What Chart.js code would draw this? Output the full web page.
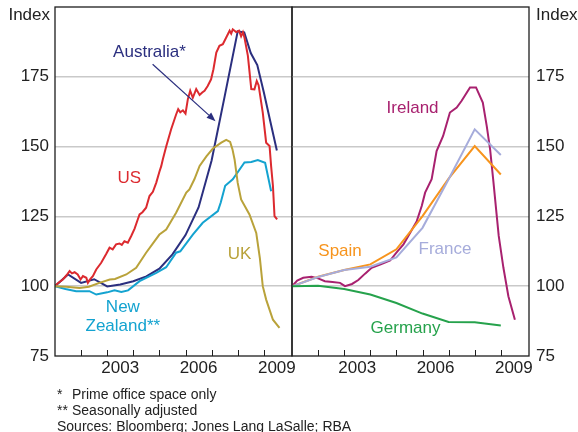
<!DOCTYPE html>
<html><head><meta charset="utf-8">
<script src="https://cdn.jsdelivr.net/npm/chart.js@4"></script>
<style>
html,body{margin:0;padding:0;background:#fff;}
body{width:578px;height:432px;position:relative;overflow:hidden;font-family:"Liberation Sans",Arial,sans-serif;color:#222;}
#cl{position:absolute;left:0;top:0;}
#cr{position:absolute;left:284px;top:0;}
.idx{position:absolute;top:5px;font-size:17px;line-height:20px;}
.note{position:absolute;left:57px;font-size:14px;line-height:16px;white-space:nowrap;}
.note span{display:inline-block;width:15px;}
</style></head>
<body>
<canvas id="cl" width="300" height="390"></canvas>
<canvas id="cr" width="294" height="390"></canvas>
<div class="idx" style="left:0;width:50px;text-align:right;">Index</div>
<div class="idx" style="left:536px;">Index</div>
<div class="note" style="top:386px;"><span>*</span>Prime office space only<br><span>**</span>Seasonally adjusted<br>Sources: Bloomberg; Jones Lang LaSalle; RBA</div>
<script>
// ---------- data (years as decimal dates, values as index, 2001 = 100) ----------
const US_T = [2001.0,2001.1,2001.3,2001.45,2001.56,2001.65,2001.75,2001.87,2001.98,2002.07,2002.2,2002.26,2002.35,2002.45,2002.58,2002.77,2002.96,2003.09,2003.21,2003.34,2003.47,2003.56,2003.66,2003.79,2003.92,2004.05,2004.17,2004.24,2004.35,2004.49,2004.62,2004.75,2004.88,2005.0,2005.07,2005.13,2005.26,2005.45,2005.55,2005.64,2005.72,2005.8,2005.9,2006.0,2006.09,2006.18,2006.28,2006.41,2006.54,2006.64,2006.73,2006.85,2006.98,2007.07,2007.18,2007.3,2007.43,2007.56,2007.69,2007.75,2007.81,2007.94,2008.05,2008.13,2008.2,2008.26,2008.39,2008.52,2008.64,2008.73,2008.8,2008.96,2009.09,2009.22,2009.28,2009.35,2009.41,2009.51];
const US_V = [100,101,102.4,104,105.4,104.6,105,104.2,102.4,103.6,103,101.2,102.5,103.6,106,108.4,111.5,113.8,113.2,115,115.3,114.8,116.1,115.6,118,120.6,123.9,125.7,126.5,128.1,132.3,133.8,137.1,141,143,145.4,150,156.2,159,161.5,163.4,162.3,163,161.8,167,170,167.5,170.6,168.5,169.4,170,171.7,174.1,177.7,183.7,186.1,186.7,189.1,191.5,190.5,192,191,191.5,189.5,191,189,182.5,170.6,170.5,173.5,172,162.2,151.4,150.2,143,135.9,125.1,123.9];
const UK_T = [2001.0,2001.43,2001.94,2002.3,2002.7,2003.1,2003.3,2003.73,2004.11,2004.49,2005.0,2005.26,2005.64,2006.03,2006.15,2006.34,2006.54,2006.8,2007.05,2007.37,2007.56,2007.71,2007.8,2007.88,2008.0,2008.13,2008.45,2008.71,2008.85,2008.96,2009.09,2009.35,2009.6];
const UK_V = [100,99.8,99.4,99.8,101.2,102.4,102.6,104.2,106.6,112,118.5,120.3,126.3,133.5,134.7,138.3,143.1,146.5,149.3,151.4,152.4,151.7,149,145.4,137,131.1,125.7,119.1,110,100,95.2,88,85.1];
const AU_T = [2001.0,2001.5,2002.0,2002.5,2003.0,2003.5,2004.0,2004.5,2005.0,2005.5,2006.0,2006.5,2007.0,2007.5,2008.0,2008.25,2008.5,2008.75,2009.0,2009.25,2009.5];
const AU_V = [100,104.2,101.2,102.5,99.9,100.6,101.8,103.5,106.3,111.4,118.3,128.2,145,168,191.3,190.9,183.5,179.2,169.5,159,148.6];
const NZ_T = [2001.0,2001.4,2001.81,2002.32,2002.58,2003.0,2003.28,2003.54,2003.8,2004.24,2004.88,2005.26,2005.64,2005.8,2006.28,2006.66,2007.24,2007.35,2007.52,2007.81,2008.26,2008.52,2008.77,2009.05,2009.28];
const NZ_V = [100,99,98.2,98.2,97,97.8,98.5,97.9,98.5,101.8,104.8,106.8,112,112.5,118.5,122.7,126.9,130,136,138.3,144.3,144.5,145.2,144.2,134];

const IE_T = [2001.0,2001.2,2001.43,2001.75,2002.0,2002.26,2002.55,2002.84,2003.03,2003.3,2003.54,2003.8,2004.05,2004.4,2004.76,2005.0,2005.27,2005.55,2005.78,2005.97,2006.1,2006.35,2006.54,2006.79,2007.05,2007.31,2007.5,2007.82,2008.05,2008.31,2008.46,2008.59,2008.72,2008.82,2008.92,2009.1,2009.29,2009.54];
const IE_V = [100,102,103,103.4,102.8,101.8,101.5,101.2,100,100.8,102.2,104.5,106.6,107.8,109.2,112,115,119.5,123.3,128.7,133.5,138.3,148.4,153.8,162.2,164,166.4,171.2,171.2,165.8,157.4,149,137.1,127.5,118,106.6,96.4,88];
const EU_T = [2001,2002,2003,2004,2005,2006,2007,2008,2009];
const FR_V = [100,103.3,105.8,107,110.3,120.9,138.3,156.2,147];
const ES_V = [100,103.4,105.8,107.8,113.2,125.1,138.5,150.2,140];
const DE_V = [100,100.2,99,97,94,90.2,87.2,87.1,85.9];

const Y_TICKS = [75,100,125,150,175];
const X_TICK_MARKS = [2002,2003,2004,2005,2006,2007,2008,2009];
const X_LABEL_YEARS = [2003,2006,2009];

// ---------- styling ----------
const FONT = "'Liberation Sans', Arial, sans-serif";
Chart.defaults.font.family = FONT;
Chart.defaults.color = '#222';
const C = {us:'#dc2a2f', uk:'#b9a23a', au:'#2b2f7f', nz:'#14a3d0', ie:'#a8216f', fr:'#a6acdb', es:'#f7941d', de:'#26a24c'};

const pts = (t, v) => t.map((x, i) => ({x, y: v[i]}));
const ds = (t, v, c) => ({data: pts(t, v), borderColor: c, borderWidth: 2, pointRadius: 0, tension: 0, fill: false});

const annot = {
  id: 'annot',
  afterDatasetsDraw(chart, args, opts) {
    const {ctx, chartArea: a} = chart;
    const x = chart.scales.x, y = chart.scales.y;
    ctx.save();
    ctx.strokeStyle = '#1e1e1e';
    ctx.lineWidth = 1;
    X_TICK_MARKS.forEach(yr => {
      const px = Math.round(x.getPixelForValue(yr)) + 0.5;
      ctx.beginPath(); ctx.moveTo(px, a.bottom); ctx.lineTo(px, a.bottom - 6); ctx.stroke();
    });
    ctx.lineWidth = 1.3;
    ctx.strokeRect(a.left, a.top, a.right - a.left, a.bottom - a.top);
    ctx.font = '17px ' + FONT;
    ctx.textAlign = 'center'; ctx.textBaseline = 'middle';
    (opts.labels || []).forEach(l => {
      ctx.fillStyle = l.color;
      ctx.fillText(l.text, x.getPixelForValue(l.x), y.getPixelForValue(l.y));
    });
    (opts.arrows || []).forEach(r => {
      const x0 = x.getPixelForValue(r.from[0]), y0 = y.getPixelForValue(r.from[1]);
      const x1 = x.getPixelForValue(r.to[0]), y1 = y.getPixelForValue(r.to[1]);
      const ang = Math.atan2(y1 - y0, x1 - x0), L = 9, W = 3.5;
      ctx.strokeStyle = r.color; ctx.fillStyle = r.color; ctx.lineWidth = 1.2;
      ctx.beginPath(); ctx.moveTo(x0, y0);
      ctx.lineTo(x1 - L * Math.cos(ang), y1 - L * Math.sin(ang)); ctx.stroke();
      ctx.beginPath(); ctx.moveTo(x1, y1);
      ctx.lineTo(x1 - L * Math.cos(ang) + W * Math.sin(ang), y1 - L * Math.sin(ang) - W * Math.cos(ang));
      ctx.lineTo(x1 - L * Math.cos(ang) - W * Math.sin(ang), y1 - L * Math.sin(ang) + W * Math.cos(ang));
      ctx.closePath(); ctx.fill();
    });
    ctx.restore();
  }
};

function makeOptions(side, labels, arrows) {
  const yWidth = side === 'left' ? 55 : 49;
  return {
    responsive: false, animation: false, events: [],
    layout: {padding: side === 'left' ? {left: 0, right: 8, top: 7, bottom: 0} : {left: 8, right: 0, top: 7, bottom: 0}},
    plugins: {legend: {display: false}, tooltip: {enabled: false}, annot: {labels, arrows}},
    scales: {
      x: {
        type: 'linear', min: 2001, max: 2010.08,
        afterBuildTicks: s => { s.ticks = X_LABEL_YEARS.map(v => ({value: v + 0.5})); },
        ticks: {callback: v => String(Math.floor(v)), font: {size: 17}, color: '#222', padding: 2, maxRotation: 0, autoSkip: false},
        grid: {display: false, drawTicks: false}, border: {display: false},
        afterFit: s => { s.height = 34; s.paddingLeft = 0; s.paddingRight = 0; }
      },
      y: {
        position: side, min: 75, max: 200,
        afterBuildTicks: s => { s.ticks = Y_TICKS.map(v => ({value: v})); },
        ticks: {font: {size: 17}, color: '#222', padding: side === 'left' ? 6 : 7},
        grid: {drawTicks: false, lineWidth: 1.5, color: c => (c.tick && c.tick.value > 75 && c.tick.value < 200) ? '#c9c9c9' : 'rgba(0,0,0,0)'},
        border: {display: false},
        afterFit: s => { s.width = yWidth; s.paddingTop = 0; s.paddingBottom = 0; }
      }
    }
  };
}

new Chart(document.getElementById('cl'), {
  type: 'line',
  data: {datasets: [ds(UK_T, UK_V, C.uk), ds(NZ_T, NZ_V, C.nz), ds(US_T, US_V, C.us), ds(AU_T, AU_V, C.au)]},
  options: makeOptions('left', [
    {text: 'Australia*', x: 2004.62, y: 183.8, color: C.au},
    {text: 'US', x: 2003.85, y: 138.6, color: C.us},
    {text: 'UK', x: 2008.07, y: 111.6, color: C.uk},
    {text: 'New', x: 2003.6, y: 92.4, color: C.nz},
    {text: 'Zealand**', x: 2003.6, y: 85.5, color: C.nz}
  ], [{from: [2004.74, 179.5], to: [2007.15, 159.1], color: C.au}]),
  plugins: [annot]
});

new Chart(document.getElementById('cr'), {
  type: 'line',
  data: {datasets: [ds(EU_T, DE_V, C.de), ds(EU_T, FR_V, C.fr), ds(EU_T, ES_V, C.es), ds(IE_T, IE_V, C.ie)]},
  options: makeOptions('right', [
    {text: 'Ireland', x: 2005.62, y: 163.7, color: C.ie},
    {text: 'Spain', x: 2002.84, y: 112.4, color: C.es},
    {text: 'France', x: 2006.86, y: 113.2, color: C.fr},
    {text: 'Germany', x: 2005.35, y: 84.8, color: C.de}
  ], []),
  plugins: [annot]
});
</script>
</body></html>
